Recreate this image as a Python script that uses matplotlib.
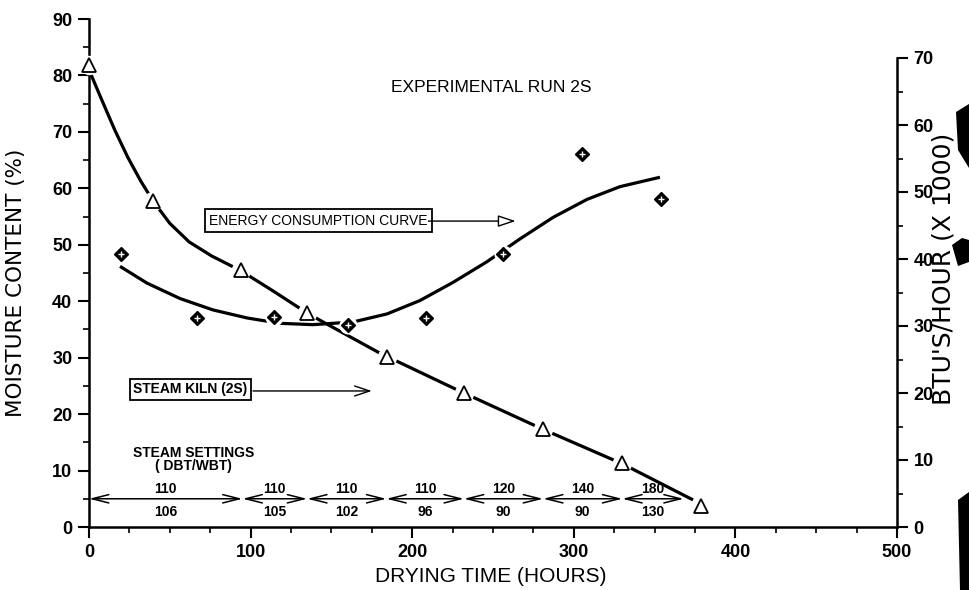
import matplotlib
matplotlib.use('Agg')
import matplotlib.pyplot as plt
from matplotlib.ticker import FixedLocator
from matplotlib.patches import Polygon

SANS = ['Liberation Sans', 'DejaVu Sans']
VERT = ['DejaVu Sans']

# ---- data ----
# moisture content (left axis, %) - measured points (triangles)
mc_hours = [0, 39.6, 94, 135, 184.4, 232, 281, 330, 378.7]
mc_values = [81.8, 57.8, 45.5, 37.9, 30.1, 23.7, 17.4, 11.3, 3.7]
# fitted moisture curve
mc_curve_hours = [0, 8, 16, 24, 32, 40, 50, 62, 76, 94,
                  114, 135, 145, 180, 230, 281, 330, 373.8]
mc_curve_values = [81.0, 75.6, 70.3, 65.5, 61.3, 57.6, 53.8, 50.5, 48.0, 45.4,
                   41.8, 37.9, 36.3, 30.8, 24.0, 17.3, 11.2, 4.8]

# energy consumption (right axis, BTU/hour x 1000) - measured points (diamonds)
en_hours = [20, 67, 114.5, 160, 208.5, 256, 305, 354]
en_values = [40.8, 31.2, 31.4, 30.2, 31.2, 40.8, 55.6, 48.9]
# fitted energy curve
en_curve_hours = [19.2, 35.9, 56.3, 76.7, 97.8, 118.2, 138.6, 163.4, 184.4,
                  204.8, 225.2, 246.3, 266.7, 287.1, 308.2, 328.6, 353.3]
en_curve_values = [38.9, 36.4, 34.1, 32.4, 31.2, 30.4, 30.2, 30.6, 31.8,
                   33.8, 36.5, 39.6, 43.0, 46.2, 48.9, 50.8, 52.2]

# steam settings (DBT / WBT) per drying period
period_bounds = [0, 95, 135, 184, 232, 281, 330, 368]
dbt_labels = ['110', '110', '110', '110', '120', '140', '180']
wbt_labels = ['106', '105', '102', '96', '90', '90', '130']

x_ticks = [0, 100, 200, 300, 400, 500]
x_minor = [25, 50, 75, 125, 150, 175, 225, 250, 275, 325, 350, 375, 425, 450, 475]
left_ticks = [0, 10, 20, 30, 40, 50, 60, 70, 80, 90]
left_minor = [5, 15, 25, 35, 45, 55, 65, 75, 85]
right_ticks = [0, 10, 20, 30, 40, 50, 60, 70]
right_minor = [5, 15, 25, 35, 45, 55, 65]

# ---- figure ----
W, H = 969, 590
fig = plt.figure(figsize=(W / 100, H / 100), dpi=100)
fig.patch.set_facecolor('white')
ax = fig.add_axes([89 / W, 1 - 527 / H, (897 - 89) / W, (527 - 19) / H])
ax2 = ax.twinx()
ax.set_xlim(0, 500)
ax.set_ylim(0, 90)
ax2.set_ylim(0, 70 * 508 / 469)
ax2.patch.set_visible(False)

for s in ['top', 'right']:
    ax.spines[s].set_visible(False)
for s in ['top', 'left', 'bottom']:
    ax2.spines[s].set_visible(False)
ax2.spines['right'].set_bounds(0, 70)
for sp in [ax.spines['left'], ax.spines['bottom'], ax2.spines['right']]:
    sp.set_linewidth(1.8)

ax.xaxis.set_major_locator(FixedLocator(x_ticks))
ax.xaxis.set_minor_locator(FixedLocator(x_minor))
ax.yaxis.set_major_locator(FixedLocator(left_ticks))
ax.yaxis.set_minor_locator(FixedLocator(left_minor))
ax2.yaxis.set_major_locator(FixedLocator(right_ticks))
ax2.yaxis.set_minor_locator(FixedLocator(right_minor))

for a in (ax, ax2):
    a.tick_params(which='major', direction='out', length=8, width=1.5, pad=4,
                  labelsize=13)
    a.tick_params(which='minor', direction='out', length=4, width=1.2)
for lab in ax.get_xticklabels() + ax.get_yticklabels() + ax2.get_yticklabels():
    lab.set_fontfamily(SANS)
    lab.set_fontweight('bold')

# moisture curve + triangles
ax.plot(mc_curve_hours, mc_curve_values, color='black', lw=2.3,
        solid_capstyle='butt', solid_joinstyle='round', zorder=2, clip_on=False)
ax.plot(mc_hours, mc_values, 'o', ms=14, mfc='white', mec='none', zorder=3,
        clip_on=False)
ax.plot(mc_hours, mc_values, '^', ms=10, mfc='white', mec='black', mew=1.3,
        zorder=4, clip_on=False)

# energy curve + diamonds
ax2.plot(en_curve_hours, en_curve_values, color='black', lw=2.3,
         solid_capstyle='butt', solid_joinstyle='round', zorder=2)
ax2.plot(en_hours, en_values, 'o', ms=13, mfc='white', mec='none', zorder=3)
ax2.plot(en_hours, en_values, 'D', ms=7, mfc='black', mec='black', zorder=4)
ax2.plot(en_hours, en_values, '+', ms=5, mec='white', mew=1.0, zorder=5)

# title text
ax.text(249, 77.8, 'EXPERIMENTAL RUN 2S', fontfamily=SANS, fontsize=12.5,
        ha='center', va='center')

# labelled boxes with arrows
ax.text(141.9, 54.3, 'ENERGY CONSUMPTION CURVE', fontfamily=SANS,
        fontsize=10, ha='center', va='center',
        bbox=dict(boxstyle='square,pad=0.3', fc='white', ec='black', lw=1.3))
ax.annotate('', xy=(264, 54.2), xytext=(210, 54.2),
            arrowprops=dict(arrowstyle='-|>,head_length=0.9,head_width=0.3',
                            mutation_scale=12, fc='white', ec='black', lw=1.0,
                            shrinkA=0, shrinkB=0))
ax.text(62.8, 24.4, 'STEAM KILN (2S)', fontfamily=SANS, fontweight='bold',
        fontsize=10, ha='center', va='center',
        bbox=dict(boxstyle='square,pad=0.25', fc='white', ec='black', lw=1.3))
ax.annotate('', xy=(175, 24.1), xytext=(101.5, 24.1),
            arrowprops=dict(arrowstyle='->,head_length=0.9,head_width=0.3',
                            mutation_scale=12, ec='black', lw=1.0,
                            shrinkA=0, shrinkB=0))

# steam settings
ax.text(64.7, 13.1, 'STEAM SETTINGS', fontfamily=SANS, fontweight='bold',
        fontsize=10, ha='center', va='center')
ax.text(64.7, 10.8, '( DBT/WBT)', fontfamily=SANS, fontweight='bold',
        fontsize=10, ha='center', va='center')
for i in range(len(dbt_labels)):
    x0, x1 = period_bounds[i], period_bounds[i + 1]
    ax.annotate('', xy=(x1, 5), xytext=(x0, 5),
                arrowprops=dict(arrowstyle='<->,head_length=1.2,head_width=0.3',
                                mutation_scale=10, ec='black', lw=1.1,
                                shrinkA=0, shrinkB=0))
    xc = (x0 + x1) / 2
    ax.text(xc, 6.8, dbt_labels[i], fontfamily=SANS, fontweight='bold',
            fontsize=10, ha='center', va='center')
    ax.text(xc, 2.7, wbt_labels[i], fontfamily=SANS, fontweight='bold',
            fontsize=10, ha='center', va='center')

# axis labels
fig.text(491 / W, 1 - 576 / H, 'DRYING TIME (HOURS)', fontfamily=SANS,
         fontsize=15, ha='center', va='center')
fig.text(16 / W, 1 - 283 / H, 'MOISTURE CONTENT (%)', fontfamily=VERT,
         fontsize=15.5, ha='center', va='center', rotation=90)
fig.text(944 / W, 1 - 269 / H, "BTU'S/HOUR (X 1000)", fontfamily=VERT,
         fontsize=18, ha='center', va='center', rotation=90)

# scan artefacts along the right edge
blobs = [
    [(956, 112), (969, 104), (969, 168), (958, 150)],
    [(952, 245), (962, 238), (969, 240), (969, 262), (958, 266)],
    [(958, 500), (969, 492), (969, 590), (960, 590)],
]
for b in blobs:
    fig.add_artist(Polygon([(x / W, 1 - y / H) for x, y in b], closed=True,
                           transform=fig.transFigure, fc='black', ec='none',
                           zorder=0))

fig.savefig('out.png', dpi=100)
